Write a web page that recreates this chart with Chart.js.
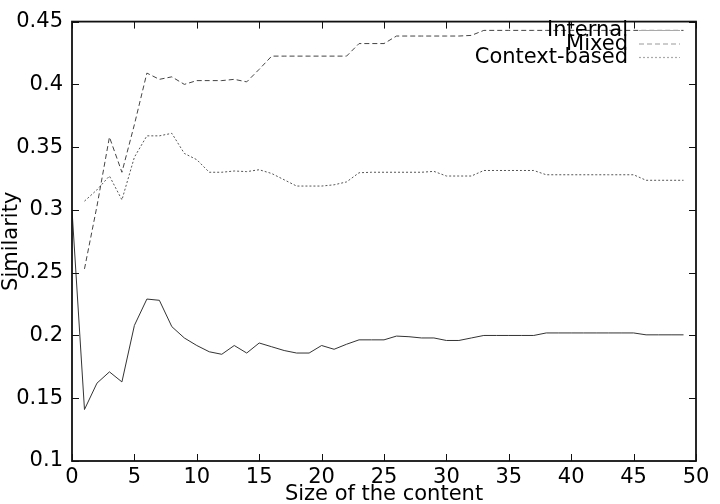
<!DOCTYPE html>
<html>
<head>
<meta charset="utf-8">
<script src="https://cdn.jsdelivr.net/npm/chart.js@4/dist/chart.umd.min.js"></script>
<style>
  body { margin: 0; background: #fff; }
  canvas { display: block; }
</style>
</head>
<body>
<canvas id="simChart" width="720" height="504"></canvas>
<script>
// content sizes (x axis)
const sizes = [0, 1, 2, 3, 4, 5, 6, 7, 8, 9,
  10, 11, 12, 13, 14, 15, 16, 17, 18, 19,
  20, 21, 22, 23, 24, 25, 26, 27, 28, 29,
  30, 31, 32, 33, 34, 35, 36, 37, 38, 39,
  40, 41, 42, 43, 44, 45, 46, 47, 48, 49];

const internalVals = [0.300, 0.141, 0.162, 0.171, 0.163, 0.208, 0.229, 0.228, 0.207, 0.198,
  0.192, 0.187, 0.185, 0.192, 0.186, 0.194, 0.191, 0.188, 0.186, 0.186,
  0.192, 0.189, 0.193, 0.1965, 0.1965, 0.1965, 0.1995, 0.199, 0.198, 0.198,
  0.196, 0.196, 0.198, 0.200, 0.200, 0.200, 0.200, 0.200, 0.202, 0.202,
  0.202, 0.202, 0.202, 0.202, 0.202, 0.202, 0.2005, 0.2005, 0.2005, 0.2005];

const mixedVals = [null, 0.253, 0.303, 0.358, 0.330, 0.368, 0.409, 0.404, 0.406, 0.400,
  0.403, 0.403, 0.403, 0.404, 0.402, 0.412, 0.4225, 0.4225, 0.4225, 0.4225,
  0.4225, 0.4225, 0.4225, 0.4325, 0.4325, 0.4325, 0.4385, 0.4385, 0.4385, 0.4385,
  0.4385, 0.4385, 0.439, 0.443, 0.443, 0.443, 0.443, 0.443, 0.443, 0.443,
  0.443, 0.443, 0.443, 0.443, 0.443, 0.443, 0.443, 0.443, 0.443, 0.443];

const contextVals = [null, 0.307, 0.316, 0.327, 0.308, 0.342, 0.359, 0.359, 0.361, 0.345,
  0.340, 0.330, 0.330, 0.331, 0.3305, 0.332, 0.329, 0.324, 0.319, 0.319,
  0.319, 0.320, 0.3223, 0.3296, 0.330, 0.330, 0.330, 0.330, 0.330, 0.3307,
  0.327, 0.327, 0.327, 0.3314, 0.3314, 0.3314, 0.3314, 0.3314, 0.328, 0.328,
  0.328, 0.328, 0.328, 0.328, 0.328, 0.328, 0.3236, 0.3236, 0.3236, 0.3236];

const yTicks = [0.1, 0.15, 0.2, 0.25, 0.3, 0.35, 0.4, 0.45];

const FONT = 'DejaVu Sans';

function toPoints(vals) {
  return sizes.map((s, i) => ({ x: s, y: vals[i] })).filter(p => p.y !== null);
}

// frame with inward ticks on all four sides, plus gnuplot-style key
const frameAndKey = {
  id: 'frameAndKey',
  afterDatasetsDraw(chart) {
    const { ctx, chartArea: a, scales: { x, y } } = chart;
    ctx.save();
    ctx.strokeStyle = '#111';
    ctx.lineWidth = 1;
    ctx.beginPath();
    x.ticks.forEach(t => {
      const px = Math.round(x.getPixelForValue(t.value)) + 0.5;
      ctx.moveTo(px, a.bottom); ctx.lineTo(px, a.bottom - 7);
      ctx.moveTo(px, a.top); ctx.lineTo(px, a.top + 7);
    });
    y.ticks.forEach(t => {
      const py = Math.round(y.getPixelForValue(t.value)) + 0.5;
      ctx.moveTo(a.left, py); ctx.lineTo(a.left + 7, py);
      ctx.moveTo(a.right, py); ctx.lineTo(a.right - 7, py);
    });
    ctx.stroke();
    ctx.lineWidth = 1.8;
    ctx.strokeRect(a.left, a.top, a.width, a.height);

    // key
    const textRight = 628, sx0 = 639, sx1 = 680;
    const rows = [30, 43.5, 57];
    ctx.font = '21px "' + FONT + '"';
    ctx.textAlign = 'right';
    ctx.textBaseline = 'alphabetic';
    chart.data.datasets.forEach((ds, i) => {
      ctx.fillStyle = '#000';
      ctx.fillText(ds.label, textRight, rows[i] + 6);
      ctx.strokeStyle = ds.keyColor;
      ctx.lineWidth = 1.2;
      ctx.setLineDash(ds.borderDash || []);
      ctx.beginPath();
      ctx.moveTo(sx0, rows[i] + 0.5);
      ctx.lineTo(sx1, rows[i] + 0.5);
      ctx.stroke();
      ctx.setLineDash([]);
    });
    ctx.restore();
  }
};

new Chart(document.getElementById('simChart'), {
  type: 'line',
  data: {
    datasets: [{
      label: 'Internal',
      data: toPoints(internalVals),
      borderColor: '#333',
      keyColor: '#aaa',
      borderWidth: 1,
      pointRadius: 0,
      tension: 0
    }, {
      label: 'Mixed',
      data: toPoints(mixedVals),
      borderColor: '#444',
      keyColor: '#999',
      borderDash: [5, 3],
      borderWidth: 1,
      pointRadius: 0,
      tension: 0
    }, {
      label: 'Context-based',
      data: toPoints(contextVals),
      borderColor: '#555',
      keyColor: '#aaa',
      borderDash: [2, 2],
      borderWidth: 1,
      pointRadius: 0,
      tension: 0
    }]
  },
  options: {
    responsive: false,
    animation: false,
    layout: { padding: { top: 17, right: 24, left: 0, bottom: 0 } },
    plugins: {
      legend: { display: false },
      tooltip: { enabled: false }
    },
    scales: {
      x: {
        type: 'linear',
        min: 0,
        max: 50,
        grid: { display: false, drawTicks: false },
        border: { display: false },
        ticks: {
          stepSize: 5,
          padding: 4,
          maxRotation: 0,
          color: '#000',
          font: { family: FONT, size: 21 }
        },
        title: {
          display: true,
          text: 'Size of the content',
          color: '#000',
          padding: { top: 0, bottom: -1 },
          font: { family: FONT, size: 21, lineHeight: 1 }
        },
        afterFit(scale) { scale.height = 43; }
      },
      y: {
        type: 'linear',
        min: 0.1,
        max: 0.45,
        grid: { display: false, drawTicks: false },
        border: { display: false },
        afterBuildTicks(scale) { scale.ticks = yTicks.map(v => ({ value: v })); },
        ticks: {
          padding: 9,
          color: '#000',
          font: { family: FONT, size: 21 },
          callback: v => String(Math.round(v * 100) / 100)
        },
        title: {
          display: true,
          text: 'Similarity',
          color: '#000',
          padding: { top: 1.5, bottom: 0 },
          font: { family: FONT, size: 21, lineHeight: 1 }
        },
        afterFit(scale) { scale.width = 72; }
      }
    }
  },
  plugins: [frameAndKey]
});
</script>
</body>
</html>
